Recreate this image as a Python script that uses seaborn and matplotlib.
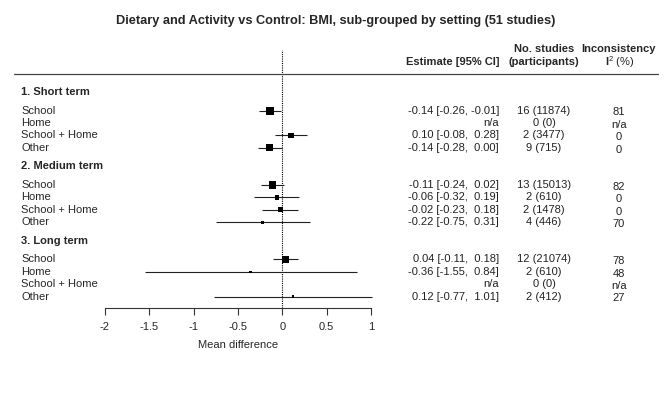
import numpy as np
import pandas as pd
import matplotlib
matplotlib.use("Agg")
import matplotlib.pyplot as plt
import matplotlib.transforms as mtransforms
import seaborn as sns

# data
sections = ["1. Short term", "2. Medium term", "3. Long term"]
settings = ["School", "Home", "School + Home", "Other"]
estimate = [-0.14, np.nan, 0.10, -0.14, -0.11, -0.06, -0.02, -0.22, 0.04, -0.36, np.nan, 0.12]
ci_lower = [-0.26, np.nan, -0.08, -0.28, -0.24, -0.32, -0.23, -0.75, -0.11, -1.55, np.nan, -0.77]
ci_upper = [-0.01, np.nan, 0.28, 0.00, 0.02, 0.19, 0.18, 0.31, 0.18, 0.84, np.nan, 1.01]
n_studies = [16, 0, 2, 9, 13, 2, 2, 4, 12, 2, 0, 2]
participants = [11874, 0, 3477, 715, 15013, 610, 1478, 446, 21074, 610, 0, 412]
i2 = [81, None, 0, 0, 82, 0, 0, 70, 78, 48, None, 27]
xticks = [-2, -1.5, -1, -0.5, 0, 0.5, 1]
xtick_labels = ["-2", "-1.5", "-1", "-0.5", "0", "0.5", "1"]

sns.set_style("white")
plt.rcParams["font.family"] = ["Liberation Sans", "DejaVu Sans"]
plt.rcParams["mathtext.fontset"] = "custom"
plt.rcParams["mathtext.rm"] = "Liberation Sans"
plt.rcParams["mathtext.bf"] = "Liberation Sans:bold"

# row layout: heading, then the four settings
rows = []
for k, sec in enumerate(sections):
    for j, st in enumerate(settings):
        rows.append({"section": sec, "setting": st, "row": 6 * k + 1.5 + j})
df = pd.DataFrame(rows)
df["estimate"] = estimate
df["lower"] = ci_lower
df["upper"] = ci_upper
df["studies"] = n_studies
df["participants"] = participants
df["i2"] = i2
se = (df["upper"] - df["lower"]) / 3.92
df["weight"] = 1 / se ** 2

fig = plt.figure(figsize=(6.72, 3.99), dpi=100)
ax = fig.add_axes([105 / 672, 91 / 399, 266 / 672, 258 / 399])
ax.set_xlim(-2, 1)
ax.set_ylim(17.42, -3.39)

ax.axvline(0, color="black", lw=0.8, ls=(0, (1, 1)))
pts = df.dropna(subset=["estimate"])
ax.hlines(pts["row"], pts["lower"], pts["upper"], color="#222222", lw=0.8, clip_on=False)
sns.scatterplot(data=pts, x="estimate", y="row", size="weight", sizes=(2.5, 32),
                marker="s", color="black", linewidth=0, legend=False, ax=ax, zorder=3)

for s in ["left", "right", "top"]:
    ax.spines[s].set_visible(False)
ax.spines["bottom"].set_color("#333333")
ax.spines["bottom"].set_linewidth(0.8)
ax.set_yticks([])
ax.set_xticks(xticks)
ax.set_xticklabels(xtick_labels)
ax.tick_params(axis="x", bottom=True, length=5, width=0.8, color="#333333",
               pad=5, labelsize=8)
ax.set_xlabel("Mean difference", fontsize=8, labelpad=6)
ax.set_ylabel("")

tr = mtransforms.blended_transform_factory(fig.transFigure, ax.transData)
fs = 8

# top rule
ax.plot([14 / 672, 658 / 672], [-1.45, -1.45], color="#444444", lw=0.9,
        transform=tr, clip_on=False)

# column headers
ax.text(499 / 672, -2.42, "Estimate [95% CI]", ha="right", va="center",
        fontsize=fs, fontweight="bold", transform=tr)
ax.text(544 / 672, -3.47, "No. studies", ha="center", va="center",
        fontsize=fs, fontweight="bold", transform=tr)
ax.text(544 / 672, -2.42, "(participants)", ha="center", va="center",
        fontsize=fs, fontweight="bold", transform=tr)
ax.text(619 / 672, -3.47, "Inconsistency", ha="center", va="center",
        fontsize=fs, fontweight="bold", transform=tr)
ax.text(620 / 672, -2.42, r"$\mathbf{I}^{2}$ (%)", ha="center", va="center",
        fontsize=fs, transform=tr)

# section headings
for k, sec in enumerate(sections):
    ax.text(21 / 672, 6 * k, sec, ha="left", va="center", fontsize=fs,
            fontweight="bold", transform=tr)

# row labels and table columns
for _, r in df.iterrows():
    ax.text(21 / 672, r["row"], r["setting"], ha="left", va="center",
            fontsize=fs, transform=tr)
    if np.isnan(r["estimate"]):
        est = "n/a"
    else:
        est = f"{r['estimate']:.2f} [{r['lower']:5.2f}, {r['upper']:5.2f}]"
    ax.text(499 / 672, r["row"], est, ha="right", va="center", fontsize=fs,
            color="#222222", transform=tr)
    ax.text(544 / 672, r["row"], f"{int(r['studies'])} ({int(r['participants'])})",
            ha="center", va="center", fontsize=fs, color="#222222", transform=tr)
    het = "n/a" if pd.isna(r["i2"]) else f"{int(r['i2'])}"
    ax.text(619 / 672, r["row"] + 0.15, het, ha="center", va="center",
            fontsize=fs, color="#222222", transform=tr)

fig.text(336 / 672, 1 - 21 / 399, "Dietary and Activity vs Control: BMI, sub-grouped by setting (51 studies)",
         ha="center", va="center", fontsize=9.2, fontweight="bold")

fig.savefig("out.png", dpi=100)
